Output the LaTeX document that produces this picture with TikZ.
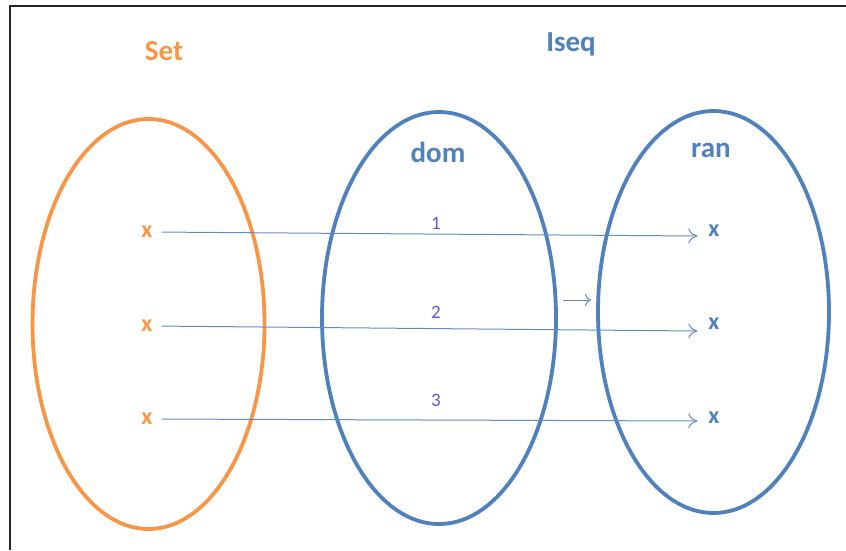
\documentclass[tikz,border=0pt]{standalone}
\usepackage{fontspec}
\setmainfont{Carlito}
\usetikzlibrary{arrows.meta,calc}
\definecolor{setorange}{HTML}{F79646}
\definecolor{seqblue}{HTML}{4F81BD}
\definecolor{linkblue}{HTML}{5F8CC4}
\definecolor{numblue}{HTML}{5A5AD2}
\definecolor{framegray}{HTML}{262626}
\tikzset{
  setring/.style={draw=setorange, line width=3.8pt},
  seqring/.style={draw=seqblue, line width=3.8pt},
  title/.style={font=\bfseries\fontsize{29}{32}\selectfont, inner sep=0pt},
  elem/.style={font=\bfseries\fontsize{24}{26}\selectfont, inner sep=0pt},
  idx/.style={font=\fontsize{19}{21}\selectfont, text=numblue, inner sep=0pt},
  maparrow/.style={draw=linkblue, line width=1pt, -{To[length=9pt,width=15pt,line width=1pt]}},
}
\begin{document}
\begin{tikzpicture}[x=1pt,y=-1pt]
  \useasboundingbox (0,0) rectangle (846,550);
  % frame edges
  \draw[framegray, line width=1.6pt] (10,550) -- (10,6) -- (846,6);

  % the three sets
  \draw[setring] (148.5,324) ellipse [x radius=116, y radius=205];
  \draw[seqring] (439,318) ellipse [x radius=117, y radius=206];
  \draw[seqring] (713.5,312) ellipse [x radius=115.5, y radius=201];

  % headings
  \node[title, text=setorange] (settitle) at (164,51) {Set};
  \node[title, text=seqblue] (seqtitle) at (571,44) {Iseq};
  \node[title, text=seqblue] (domtitle) at (438,152) {dom};
  \node[title, text=seqblue] (rantitle) at (711,150) {ran};

  % elements of Set
  \node[elem, text=setorange] (s1) at (147,232) {x};
  \node[elem, text=setorange] (s2) at (147,326) {x};
  \node[elem, text=setorange] (s3) at (147,419) {x};

  % elements of ran
  \node[elem, text=seqblue] (r1) at (714,231) {x};
  \node[elem, text=seqblue] (r2) at (714,324) {x};
  \node[elem, text=seqblue] (r3) at (714,418) {x};

  % indices
  \node[idx] (i1) at (436,223) {1};
  \node[idx] (i2) at (436,312) {2};
  \node[idx] (i3) at (436,400) {3};

  % mappings
  \draw[maparrow, shorten <=9pt] (s1.east) -- ($(r1.west)+(-11,5)$);
  \draw[maparrow, shorten <=9pt] (s2.east) -- ($(r2.west)+(-11,7)$);
  \draw[maparrow, shorten <=9pt] (s3.east) -- ($(r3.west)+(-11,3)$);

  % small arrow between dom and ran
  \coordinate (gapstart) at (563,300);
  \coordinate (gapend) at (591,300);
  \draw[draw=linkblue, line width=1pt, -{To[length=6pt,width=12pt,line width=1pt]}] (gapstart) -- (gapend);
\end{tikzpicture}
\end{document}
